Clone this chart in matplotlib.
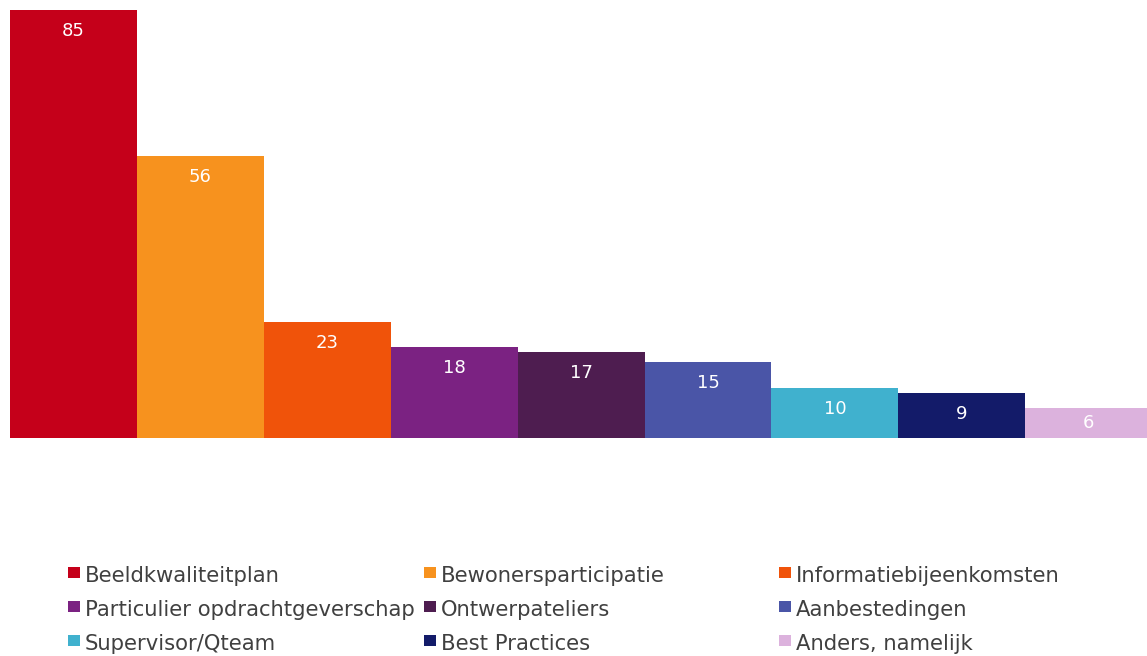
import matplotlib
matplotlib.use("Agg")
import matplotlib.pyplot as plt
from matplotlib.patches import Rectangle

categories = ["Beeldkwaliteitplan", "Bewonersparticipatie", "Informatiebijeenkomsten",
              "Particulier opdrachtgeverschap", "Ontwerpateliers", "Aanbestedingen",
              "Supervisor/Qteam", "Best Practices", "Anders, namelijk"]
values = [85, 56, 23, 18, 17, 15, 10, 9, 6]
colors = ["#C5001A", "#F7921E", "#F0530A", "#7B2282", "#4E1D50", "#4A55A7",
          "#40B1CE", "#131B69", "#DCB2DD"]

plt.rcParams['font.family'] = ['DejaVu Sans']
W, H = 1147, 656
fig = plt.figure(figsize=(W / 100, H / 100), dpi=100)
ax = fig.add_axes([10 / W, 1 - 438 / H, 1 - 10 / W, (438 - 10) / H])
x = list(range(len(values)))
ax.bar(x, values, width=1.0, color=colors)
bar_px = 126.9
ax.set_xlim(-0.5, -0.5 + (W - 10) / bar_px)
ax.set_ylim(0, 85)
ax.axis('off')

px_per_unit = 428 / 85
for xi, v in zip(x, values):
    off = min(21, v * px_per_unit / 2)
    ax.annotate(str(v), (xi, v), xytext=(0, -off), textcoords='offset pixels',
                ha='center', va='center', color='white', fontsize=13)

col_x = [68, 424, 779]
row_y = [575, 609, 643]
for i, (lab, c) in enumerate(zip(categories, colors)):
    r, cidx = divmod(i, 3)
    px, py = col_x[cidx], row_y[r]
    fig.patches.append(Rectangle((px / W, 1 - (py + 3) / H), 12 / W, 11 / H,
                                 transform=fig.transFigure, facecolor=c, edgecolor='none'))
    fig.text((px + 17) / W, 1 - (py + 1) / H, lab, ha='left', va='center',
             fontsize=15.2, color='#404040')

fig.savefig("out.png", dpi=100)
